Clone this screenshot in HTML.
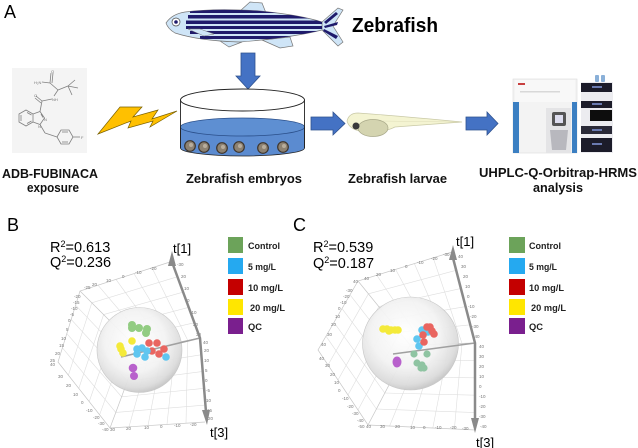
<!DOCTYPE html>
<html><head><meta charset="utf-8"><style>
html,body{margin:0;padding:0;background:#fff;}
svg{display:block;}
text{font-family:"Liberation Sans",sans-serif;}
</style></head><body>
<svg width="638" height="448" viewBox="0 0 638 448" xmlns="http://www.w3.org/2000/svg">
<defs>
<clipPath id="fishclip"><path d="M166,23 Q172,14 185,12 Q215,8 260,11 Q300,15 322,22 L322,30 Q290,38 240,42 Q200,41 175,33 Q168,29 166,23 Z"/></clipPath>
<radialGradient id="sph" cx="45%" cy="40%" r="60%">
<stop offset="0" stop-color="#ffffff"/><stop offset="0.6" stop-color="#f3f3f3"/><stop offset="0.9" stop-color="#dcdcdc"/><stop offset="1" stop-color="#c8c8c8"/>
</radialGradient>
</defs>

<!-- Panel A -->
<text x="4" y="18" font-size="18">A</text>

<!-- fish -->
<g stroke="#777" stroke-width="0.7">
<path d="M240,11 L250,2 L262,3 L266,13 Z" fill="#cfe5f7"/>
<path d="M262,40 L280,48 L293,46 L290,37 Z" fill="#cfe5f7"/>
<path d="M220,41 L229,47 L242,42 Z" fill="#cfe5f7"/>
<path d="M322,22 L338,8 L343,10 L333,26 L343,42 L338,46 L322,30 Z" fill="#cfe5f7"/>
<path d="M166,23 Q172,14 185,12 Q215,8 260,11 Q300,15 322,22 L322,30 Q290,38 240,42 Q200,41 175,33 Q168,29 166,23 Z" fill="#cfe5f7"/>
</g>
<g clip-path="url(#fishclip)" fill="#1f1a6b">
<rect x="190" y="9" width="140" height="4"/>
<rect x="188" y="15" width="140" height="3.5"/>
<rect x="186" y="20.5" width="140" height="3.5"/>
<rect x="186" y="26" width="140" height="3"/>
<rect x="190" y="31" width="140" height="3"/>
<rect x="200" y="36" width="130" height="3"/>
</g>
<g fill="#1f1a6b">
<path d="M324,22 L336,12 L338,14 L326,24 Z"/>
<path d="M324,26 L338,22 L337,25 L325,28 Z"/>
<path d="M324,29 L338,36 L336,39 L323,31 Z"/>
</g>
<path d="M188,29 L204,36 L214,34 L200,29 Z" fill="#cfe5f7" stroke="#777" stroke-width="0.5"/>
<circle cx="176" cy="22" r="4" fill="#fff" stroke="#444" stroke-width="0.7"/>
<circle cx="176" cy="22" r="1.8" fill="#1f1a6b"/>

<text x="352" y="32" font-size="20" font-weight="bold" textLength="86" lengthAdjust="spacingAndGlyphs">Zebrafish</text>

<!-- arrows -->
<g fill="#4472c4" stroke="#2f528f" stroke-width="0.8">
<polygon points="241,53 255,53 255,76 260,76 248,89 236,76 241,76"/>
<polygon points="311,117 333,117 333,112 345,123.5 333,135 333,130 311,130"/>
<polygon points="466,117 487,117 487,112 498,123.5 487,135 487,130 466,130"/>
</g>

<!-- molecule -->
<rect x="12" y="68" width="75" height="85" fill="#f4f4f4"/>
<g stroke="#808080" stroke-width="0.8" fill="none">
<polygon points="33,114 33,122 26,126 19,122 19,114 26,110"/>
<line x1="21" y1="115" x2="21" y2="121"/><line x1="27" y1="112.5" x2="31.5" y2="115"/><line x1="27" y1="123.5" x2="31.5" y2="121"/>
<polyline points="33,114 40,111.5 44.5,118 40,124.5 33,122"/>
<line x1="41" y1="114" x2="43" y2="117.5"/>
<line x1="40" y1="111.5" x2="42" y2="101"/>
<line x1="42" y1="101" x2="36" y2="96"/><line x1="41" y1="103" x2="35" y2="98"/>
<line x1="42" y1="101" x2="52" y2="99"/>
<line x1="54" y1="96" x2="58" y2="90"/>
<line x1="58" y1="90" x2="50" y2="83"/>
<line x1="50" y1="83" x2="51" y2="73"/><line x1="52" y1="83" x2="53" y2="73"/>
<line x1="50" y1="83" x2="42" y2="82"/>
<line x1="58" y1="90" x2="68" y2="86"/>
<line x1="68" y1="86" x2="75" y2="80"/><line x1="68" y1="86" x2="78" y2="88"/><line x1="68" y1="86" x2="72" y2="95"/>
<line x1="40" y1="124.5" x2="45" y2="133"/>
<line x1="45" y1="133" x2="57" y2="137"/>
<polygon points="57,137 61,130 69,130 73,137 69,144 61,144"/>
<line x1="62" y1="132" x2="68" y2="132"/><line x1="62" y1="142" x2="68" y2="142"/>
<line x1="73" y1="137" x2="80" y2="137"/>
</g>
<g font-size="4" fill="#777">
<text x="34" y="97">O</text><text x="51" y="73">O</text><text x="52" y="101">NH</text>
<text x="34" y="84">H₂N</text><text x="44" y="121">N</text><text x="38" y="128">N</text><text x="81" y="139">F</text>
</g>

<!-- lightning -->
<polygon points="98,134 120,107 142,107 133,117 158,110 152,119 177,111 150,127 153,121 128,128 131,121" fill="#ffc000" stroke="#7a6000" stroke-width="0.7"/>

<!-- petri dish -->
<path d="M180.5,127 L180.5,148 A62,8 0 0 0 304.5,148 L304.5,127 Z" fill="#5b8bd0" stroke="#222" stroke-width="0.8"/>
<ellipse cx="242.5" cy="127" rx="62" ry="9" fill="#5e8fd2" stroke="#2a4f8a" stroke-width="0.8"/>
<line x1="180.5" y1="100" x2="180.5" y2="148" stroke="#222" stroke-width="0.9"/>
<line x1="304.5" y1="100" x2="304.5" y2="148" stroke="#222" stroke-width="0.9"/>
<ellipse cx="242.5" cy="100" rx="62" ry="11" fill="#fff" stroke="#222" stroke-width="0.9"/>
<g stroke="#3e352c" stroke-width="1.2" fill="#8d8272">
<circle cx="190" cy="146" r="5.3"/><circle cx="204" cy="147" r="5.3"/><circle cx="222" cy="148" r="5.3"/>
<circle cx="239" cy="147" r="5.3"/><circle cx="263" cy="148" r="5.3"/><circle cx="283" cy="147" r="5.3"/>
</g>
<g fill="#b8ad9c">
<circle cx="191" cy="145" r="2"/><circle cx="205" cy="146" r="2"/><circle cx="223" cy="147" r="2"/>
<circle cx="240" cy="146" r="2"/><circle cx="264" cy="147" r="2"/><circle cx="284" cy="146" r="2"/>
</g>

<!-- larva -->
<path d="M347,121 Q349,113 358,113 Q400,116 462,122 Q420,125 395,127 Q385,132 370,132 Q350,132 347,121 Z" fill="#f4f4d2" stroke="#c9c9a6" stroke-width="0.7"/>
<line x1="380" y1="121" x2="455" y2="122" stroke="#deddb8" stroke-width="0.5"/>
<ellipse cx="373" cy="128" rx="15" ry="8.5" fill="#d4d4b0" stroke="#a8a888" stroke-width="0.7"/>
<circle cx="356" cy="126" r="3.5" fill="#3a3a3a"/>

<!-- instrument -->
<rect x="513" y="79" width="64" height="74" fill="#f3f3f3" stroke="#dcdcdc" stroke-width="0.6"/>
<rect x="515" y="80" width="60" height="22" fill="#f8f8f8"/>
<rect x="518" y="83" width="7" height="2" fill="#c84040"/>
<rect x="520" y="91" width="40" height="1.5" fill="#d8d8d8"/>
<rect x="513" y="102" width="6" height="51" fill="#3b7fc2"/>
<rect x="572" y="102" width="5" height="51" fill="#3b7fc2"/>
<rect x="546" y="108" width="25" height="45" fill="#e4e4e6"/>
<rect x="552" y="112" width="14" height="14" fill="#555" rx="2"/>
<rect x="555" y="115" width="8" height="8" fill="#dde" />
<path d="M550,130 L568,130 L566,150 L552,150 Z" fill="#b8b8be"/>
<rect x="581" y="82" width="32" height="71" fill="#ececf0"/>
<rect x="581" y="83" width="31" height="9" fill="#1c1c2a"/>
<rect x="592" y="86" width="10" height="2" fill="#6a7ab0"/>
<rect x="581" y="101" width="31" height="7" fill="#1c1c2a"/>
<rect x="592" y="103" width="10" height="2" fill="#6a7ab0"/>
<rect x="590" y="110" width="22" height="11" fill="#0d0d0d"/>
<rect x="581" y="126" width="31" height="8" fill="#2a2a38"/>
<rect x="592" y="129" width="10" height="2" fill="#6a7ab0"/>
<rect x="581" y="138" width="31" height="14" fill="#1c1c2a"/>
<rect x="592" y="143" width="10" height="2" fill="#6a7ab0"/>
<rect x="595" y="75" width="4" height="7" fill="#8ab0d8" rx="1"/>
<rect x="601" y="75" width="4" height="7" fill="#8ab0d8" rx="1"/>

<!-- A labels -->
<g font-weight="bold" fill="#111">
<text x="2" y="178" font-size="13" textLength="96" lengthAdjust="spacingAndGlyphs">ADB-FUBINACA</text>
<text x="27" y="192" font-size="13" textLength="52" lengthAdjust="spacingAndGlyphs">exposure</text>
<text x="186" y="183" font-size="13" textLength="116" lengthAdjust="spacingAndGlyphs">Zebrafish embryos</text>
<text x="348" y="183" font-size="13" textLength="99" lengthAdjust="spacingAndGlyphs">Zebrafish larvae</text>
<text x="479" y="177" font-size="13" textLength="158" lengthAdjust="spacingAndGlyphs">UHPLC-Q-Orbitrap-HRMS</text>
<text x="533" y="192" font-size="13" textLength="50" lengthAdjust="spacingAndGlyphs">analysis</text>
</g>

<!-- Panel B -->
<text x="7" y="231" font-size="18">B</text>
<text x="50" y="252" font-size="14.5">R<tspan font-size="9" dy="-5">2</tspan><tspan dy="5">=0.613</tspan></text>
<text x="50" y="267" font-size="14.5">Q<tspan font-size="9" dy="-5">2</tspan><tspan dy="5">=0.236</tspan></text>

<g stroke="#dedede" stroke-width="0.6">
<line x1="98" y1="285.2" x2="151.2" y2="347.6"/><line x1="116" y1="279.4" x2="163.4" y2="345.2"/><line x1="134" y1="273.6" x2="175.6" y2="342.8"/><line x1="152" y1="267.8" x2="187.8" y2="340.4"/>
<line x1="91.8" y1="302.8" x2="176" y2="277.2"/><line x1="103.6" y1="314.6" x2="182" y2="292.4"/><line x1="115.4" y1="326.4" x2="188" y2="307.6"/><line x1="127.2" y1="338.2" x2="194" y2="322.8"/>
<line x1="151.2" y1="347.6" x2="129" y2="426.8"/><line x1="163.4" y1="345.2" x2="148" y2="425.6"/><line x1="175.6" y1="342.8" x2="167" y2="424.4"/><line x1="187.8" y1="340.4" x2="186" y2="423.2"/>
<line x1="133.2" y1="365.6" x2="201" y2="354.8"/><line x1="127.4" y1="381.2" x2="202" y2="371.6"/><line x1="121.6" y1="396.8" x2="203" y2="388.4"/><line x1="115.8" y1="412.4" x2="204" y2="405.2"/>
<line x1="133.2" y1="365.6" x2="75.6" y2="305.2"/><line x1="127.4" y1="381.2" x2="71.2" y2="319.4"/><line x1="121.6" y1="396.8" x2="66.8" y2="333.6"/><line x1="115.8" y1="412.4" x2="62.4" y2="347.8"/>
<line x1="127.2" y1="338.2" x2="99.6" y2="414.8"/><line x1="115.4" y1="326.4" x2="89.2" y2="401.6"/><line x1="103.6" y1="314.6" x2="78.8" y2="388.4"/><line x1="91.8" y1="302.8" x2="68.4" y2="375.2"/>
</g>
<g stroke="#c6c6c6" stroke-width="0.7" fill="none">
<polyline points="170,262 80,291 58,362 110,428 205,422"/>
<line x1="139" y1="350" x2="80" y2="291"/><line x1="139" y1="350" x2="110" y2="428"/><line x1="139" y1="350" x2="200" y2="338"/>
</g>
<g font-size="4.5" fill="#777">
<text x="84" y="289">-25</text><text x="92" y="286">20</text><text x="106" y="282">10</text><text x="122" y="278">0</text><text x="135" y="274">-10</text><text x="150" y="270">-20</text>
<text x="74" y="298">-20</text><text x="73" y="304">-15</text><text x="71" y="310">-10</text><text x="70" y="316">-5</text><text x="68" y="322">0</text><text x="66" y="331">5</text><text x="61" y="340">10</text><text x="59" y="347">15</text><text x="55" y="355">20</text><text x="50" y="362">25</text><text x="50" y="366">40</text>
<text x="58" y="378">30</text><text x="66" y="387">20</text><text x="73" y="396">10</text><text x="81" y="404">0</text><text x="86" y="412">-10</text><text x="93" y="419">-20</text><text x="98" y="425">-30</text><text x="102" y="431">-40</text>
<text x="110" y="431">30</text><text x="126" y="430">20</text><text x="144" y="429">10</text><text x="160" y="428">0</text><text x="174" y="427">-10</text><text x="190" y="426">-20</text>
<text x="177" y="266">-30</text><text x="181" y="278">20</text><text x="184" y="290">10</text><text x="187" y="302">0</text><text x="190" y="314">-10</text><text x="193" y="326">20</text><text x="196" y="336">30</text>
<text x="203" y="344">40</text><text x="204" y="352">20</text><text x="204" y="362">10</text><text x="205" y="372">5</text><text x="205" y="382">0</text><text x="206" y="392">-5</text><text x="206" y="402">10</text><text x="207" y="412">15</text><text x="208" y="420">20</text>
</g>
<circle cx="139.5" cy="350" r="42.5" fill="url(#sph)" stroke="#c4c4c4" stroke-width="0.6" opacity="0.95"/>
<line x1="121" y1="357" x2="200" y2="338" stroke="#a0a0a0" stroke-width="1.5"/>
<polyline points="172,262 200,338 206,412" fill="none" stroke="#8a8a8a" stroke-width="2.5"/>
<polygon points="168,266 172,251 176,266" fill="#8a8a8a"/>
<polygon points="202,410 210,410 207,425" fill="#8a8a8a"/>
<text x="173" y="253" font-size="13">t[1]</text>
<text x="210" y="437" font-size="13">t[3]</text>
<g fill="#92cc82"><circle cx="132" cy="325" r="4"/><circle cx="132" cy="328" r="4"/><circle cx="139" cy="328" r="4"/><circle cx="147" cy="329" r="4"/><circle cx="146" cy="333" r="4"/></g>
<g fill="#f4ea3a"><circle cx="132" cy="341" r="3.8"/><circle cx="120" cy="346" r="3.8"/><circle cx="121" cy="349" r="3.8"/><circle cx="123" cy="353" r="3.8"/></g>
<g fill="#e96560"><circle cx="149" cy="343" r="3.8"/><circle cx="157" cy="343" r="3.8"/><circle cx="152" cy="351" r="3.8"/><circle cx="159" cy="354" r="3.8"/><circle cx="164" cy="349" r="3.8"/></g>
<g fill="#5fc6f0"><circle cx="137" cy="349" r="3.8"/><circle cx="142" cy="348" r="3.8"/><circle cx="147" cy="351" r="3.8"/><circle cx="137" cy="354" r="3.8"/><circle cx="145" cy="357" r="3.8"/><circle cx="166" cy="357" r="3.8"/></g>
<g fill="#b861cc"><circle cx="133" cy="368" r="4.3"/><circle cx="134" cy="376" r="4"/></g>

<!-- legend B -->
<rect x="228" y="237" width="15" height="16" fill="#6ca35a"/>
<rect x="228" y="258" width="15" height="16" fill="#25a9f0"/>
<rect x="228" y="279" width="15" height="16" fill="#c40000"/>
<rect x="228" y="299" width="15" height="16" fill="#ffe600"/>
<rect x="228" y="318" width="15" height="16" fill="#7a1f8e"/>
<g font-size="9.5" font-weight="bold" fill="#222">
<text x="248" y="249" textLength="32" lengthAdjust="spacingAndGlyphs">Control</text>
<text x="248" y="270" textLength="28" lengthAdjust="spacingAndGlyphs">5 mg/L</text>
<text x="248" y="291" textLength="35" lengthAdjust="spacingAndGlyphs">10 mg/L</text>
<text x="250" y="311" textLength="35" lengthAdjust="spacingAndGlyphs">20 mg/L</text>
<text x="248" y="330" textLength="14" lengthAdjust="spacingAndGlyphs">QC</text>
</g>

<!-- Panel C -->
<text x="293" y="231" font-size="18">C</text>
<text x="313" y="252" font-size="14.5">R<tspan font-size="9" dy="-5">2</tspan><tspan dy="5">=0.539</tspan></text>
<text x="313" y="268" font-size="14.5">Q<tspan font-size="9" dy="-5">2</tspan><tspan dy="5">=0.187</tspan></text>

<g stroke="#dedede" stroke-width="0.6">
<line x1="376.8" y1="275.2" x2="423" y2="344.6"/><line x1="395.6" y1="269.4" x2="436" y2="344.2"/><line x1="414.4" y1="263.6" x2="449" y2="343.8"/><line x1="433.2" y1="257.8" x2="462" y2="343.4"/>
<line x1="368.4" y1="293.8" x2="456.6" y2="270.2"/><line x1="378.8" y1="306.6" x2="461.2" y2="288.4"/><line x1="389.2" y1="319.4" x2="465.8" y2="306.6"/><line x1="399.6" y1="332.2" x2="470.4" y2="324.8"/>
<line x1="423" y1="344.6" x2="389.6" y2="426"/><line x1="436" y1="344.2" x2="411.2" y2="427"/><line x1="449" y1="343.8" x2="432.8" y2="428"/><line x1="462" y1="343.4" x2="454.4" y2="429"/>
<line x1="401.6" y1="361" x2="475.2" y2="360.4"/><line x1="393.2" y1="377" x2="475.4" y2="377.8"/><line x1="384.8" y1="393" x2="475.6" y2="395.2"/><line x1="376.4" y1="409" x2="475.8" y2="412.6"/>
<line x1="401.6" y1="361" x2="350" y2="294.8"/><line x1="393.2" y1="377" x2="342" y2="308.6"/><line x1="384.8" y1="393" x2="334" y2="322.4"/><line x1="376.4" y1="409" x2="326" y2="336.2"/>
<line x1="399.6" y1="332.2" x2="358" y2="410"/><line x1="389.2" y1="319.4" x2="348" y2="395"/><line x1="378.8" y1="306.6" x2="338" y2="380"/><line x1="368.4" y1="293.8" x2="328" y2="365"/>
</g>
<g stroke="#c6c6c6" stroke-width="0.7" fill="none">
<polyline points="452,252 358,281 318,350 368,425 476,430"/>
<line x1="410" y1="345" x2="358" y2="281"/><line x1="410" y1="345" x2="368" y2="425"/><line x1="410" y1="345" x2="475" y2="343"/>
</g>
<g font-size="4.5" fill="#777">
<text x="353" y="283">40</text><text x="364" y="280">40</text><text x="376" y="276">20</text><text x="390" y="272">10</text><text x="405" y="268">0</text><text x="417" y="264">-10</text><text x="431" y="260">-20</text><text x="443" y="256">-30</text>
<text x="346" y="292">-30</text><text x="343" y="298">-20</text><text x="340" y="304">-10</text><text x="338" y="310">0</text><text x="335" y="318">10</text><text x="331" y="326">20</text><text x="327" y="336">30</text><text x="321" y="346">40</text>
<text x="319" y="360">40</text><text x="325" y="367">30</text><text x="330" y="376">20</text><text x="334" y="384">10</text><text x="338" y="392">0</text><text x="342" y="400">-10</text><text x="347" y="408">-20</text><text x="352" y="415">-30</text><text x="357" y="422">-40</text><text x="358" y="428">-50</text>
<text x="366" y="428">40</text><text x="380" y="428">30</text><text x="395" y="428">20</text><text x="410" y="429">10</text><text x="423" y="429">0</text><text x="435" y="429">-10</text><text x="450" y="429">-20</text><text x="462" y="430">-30</text>
<text x="458" y="258">40</text><text x="461" y="268">30</text><text x="463" y="278">20</text><text x="465" y="288">10</text><text x="467" y="298">0</text><text x="468" y="308">-10</text><text x="470" y="318">-20</text><text x="472" y="328">-30</text><text x="473" y="338">-40</text>
<text x="479" y="348">40</text><text x="479" y="358">30</text><text x="479" y="368">20</text><text x="479" y="378">10</text><text x="479" y="388">0</text><text x="479" y="398">-10</text><text x="479" y="408">-20</text><text x="479" y="418">-30</text><text x="480" y="428">-40</text>
</g>
<ellipse cx="410.5" cy="343.5" rx="48" ry="46.5" fill="url(#sph)" stroke="#c4c4c4" stroke-width="0.6" opacity="0.95"/>
<line x1="393" y1="354" x2="475" y2="343" stroke="#a0a0a0" stroke-width="1.5"/>
<polyline points="453,258 475,343 475,420" fill="none" stroke="#8a8a8a" stroke-width="2.5"/>
<polygon points="449,260 453,245 457,260" fill="#8a8a8a"/>
<polygon points="471,418 479,418 475,433" fill="#8a8a8a"/>
<text x="456" y="246" font-size="13">t[1]</text>
<text x="476" y="447" font-size="13">t[3]</text>
<g fill="#f4ea3a"><circle cx="383" cy="329" r="3.8"/><circle cx="387" cy="329" r="3.8"/><circle cx="391" cy="330" r="3.8"/><circle cx="395" cy="330" r="3.8"/><circle cx="398" cy="330" r="3.8"/><circle cx="389" cy="331" r="3.8"/></g>
<g fill="#5fc6f0"><circle cx="422" cy="330" r="3.8"/><circle cx="428" cy="332" r="3.8"/><circle cx="417" cy="339" r="3.8"/><circle cx="419" cy="346" r="3.8"/></g>
<g fill="#e96560"><circle cx="427" cy="327" r="3.8"/><circle cx="430" cy="327" r="3.8"/><circle cx="432" cy="331" r="3.8"/><circle cx="434" cy="334" r="3.8"/><circle cx="423" cy="335" r="3.8"/><circle cx="424" cy="342" r="3.8"/></g>
<g fill="#8fc4a2"><circle cx="414" cy="354" r="3.6"/><circle cx="427" cy="354" r="3.6"/><circle cx="417" cy="363" r="3.6"/><circle cx="422" cy="365" r="3.6"/><circle cx="421" cy="368" r="3.6"/><circle cx="424" cy="368" r="3.6"/></g>
<ellipse cx="397" cy="362" rx="4.5" ry="5.5" fill="#b861cc"/>

<!-- legend C -->
<rect x="509" y="237" width="16" height="16" fill="#6ca35a"/>
<rect x="509" y="258" width="16" height="16" fill="#25a9f0"/>
<rect x="509" y="279" width="16" height="16" fill="#c40000"/>
<rect x="509" y="299" width="16" height="16" fill="#ffe600"/>
<rect x="509" y="318" width="16" height="16" fill="#7a1f8e"/>
<g font-size="9.5" font-weight="bold" fill="#222">
<text x="529" y="249" textLength="32" lengthAdjust="spacingAndGlyphs">Control</text>
<text x="529" y="270" textLength="28" lengthAdjust="spacingAndGlyphs">5 mg/L</text>
<text x="529" y="291" textLength="35" lengthAdjust="spacingAndGlyphs">10 mg/L</text>
<text x="531" y="311" textLength="35" lengthAdjust="spacingAndGlyphs">20 mg/L</text>
<text x="529" y="330" textLength="14" lengthAdjust="spacingAndGlyphs">QC</text>
</g>
</svg>
</body></html>
